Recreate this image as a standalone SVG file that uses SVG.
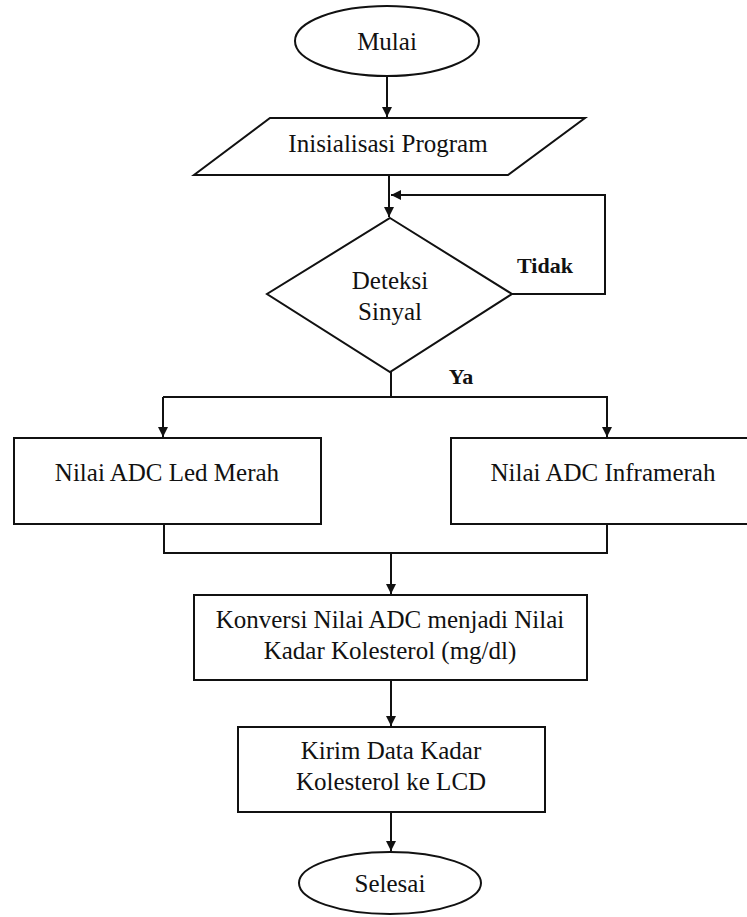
<svg xmlns="http://www.w3.org/2000/svg" width="747" height="917" viewBox="0 0 747 917">
<defs>
<marker id="arr" viewBox="0 0 10 10" refX="10" refY="5" markerWidth="10" markerHeight="10" markerUnits="userSpaceOnUse" orient="auto">
<path d="M0,0 L10,5 L0,10 Z" fill="#111"/>
</marker>
<style>
.s{fill:#fff;stroke:#111;stroke-width:2}
.t{font-size:25px;fill:#111;text-anchor:middle}
.b{font-weight:bold;font-size:22px}
.c{fill:none;stroke:#111;stroke-width:2}
</style>
</defs>
<rect width="747" height="917" fill="#fff"/>
<g font-family="Liberation Serif, DejaVu Serif, serif">
<g id="connectors">
<path class="c" d="M387,76 V117" marker-end="url(#arr)"/>
<path class="c" d="M389,175 V217" marker-end="url(#arr)"/>
<path class="c" d="M512,294 H605 V195 H391" marker-end="url(#arr)"/>
<path class="c" d="M391,372 V397"/>
<path class="c" d="M163,397 H607 V437" marker-end="url(#arr)"/>
<path class="c" d="M163,397 V437" marker-end="url(#arr)"/>
<path class="c" d="M164,524 V553 H607 V524"/>
<path class="c" d="M391,553 V594" marker-end="url(#arr)"/>
<path class="c" d="M391,680 V726" marker-end="url(#arr)"/>
<path class="c" d="M391,812 V851" marker-end="url(#arr)"/>
<text class="t b" x="545" y="273">Tidak</text>
<text class="t b" x="461" y="384">Ya</text>
</g>
<g id="mulai">
<ellipse class="s" cx="387" cy="41" rx="92" ry="35"/>
<text class="t" x="387" y="50">Mulai</text>
</g>
<g id="inisialisasi">
<polygon class="s" points="270,118 585,118 508,175 194,175"/>
<text class="t" x="388" y="152">Inisialisasi Program</text>
</g>
<g id="deteksi">
<polygon class="s" points="390,218 512,294 390,372 267,294"/>
<text class="t" x="390" y="289">Deteksi</text>
<text class="t" x="390" y="320">Sinyal</text>
</g>
<g id="led-merah">
<rect class="s" x="14" y="438" width="307" height="86"/>
<text class="t" x="167" y="481">Nilai ADC Led Merah</text>
</g>
<g id="inframerah">
<rect class="s" x="451" y="438" width="310" height="86"/>
<text class="t" x="603" y="481">Nilai ADC Inframerah</text>
</g>
<g id="konversi">
<rect class="s" x="194" y="595" width="393" height="85"/>
<text class="t" x="390" y="628">Konversi Nilai ADC menjadi Nilai</text>
<text class="t" x="390" y="659">Kadar Kolesterol (mg/dl)</text>
</g>
<g id="kirim">
<rect class="s" x="238" y="727" width="307" height="85"/>
<text class="t" x="391" y="759">Kirim Data Kadar</text>
<text class="t" x="391" y="790">Kolesterol ke LCD</text>
</g>
<g id="selesai">
<ellipse class="s" cx="390" cy="883" rx="91" ry="31"/>
<text class="t" x="390" y="892">Selesai</text>
</g>
</g>
</svg>
